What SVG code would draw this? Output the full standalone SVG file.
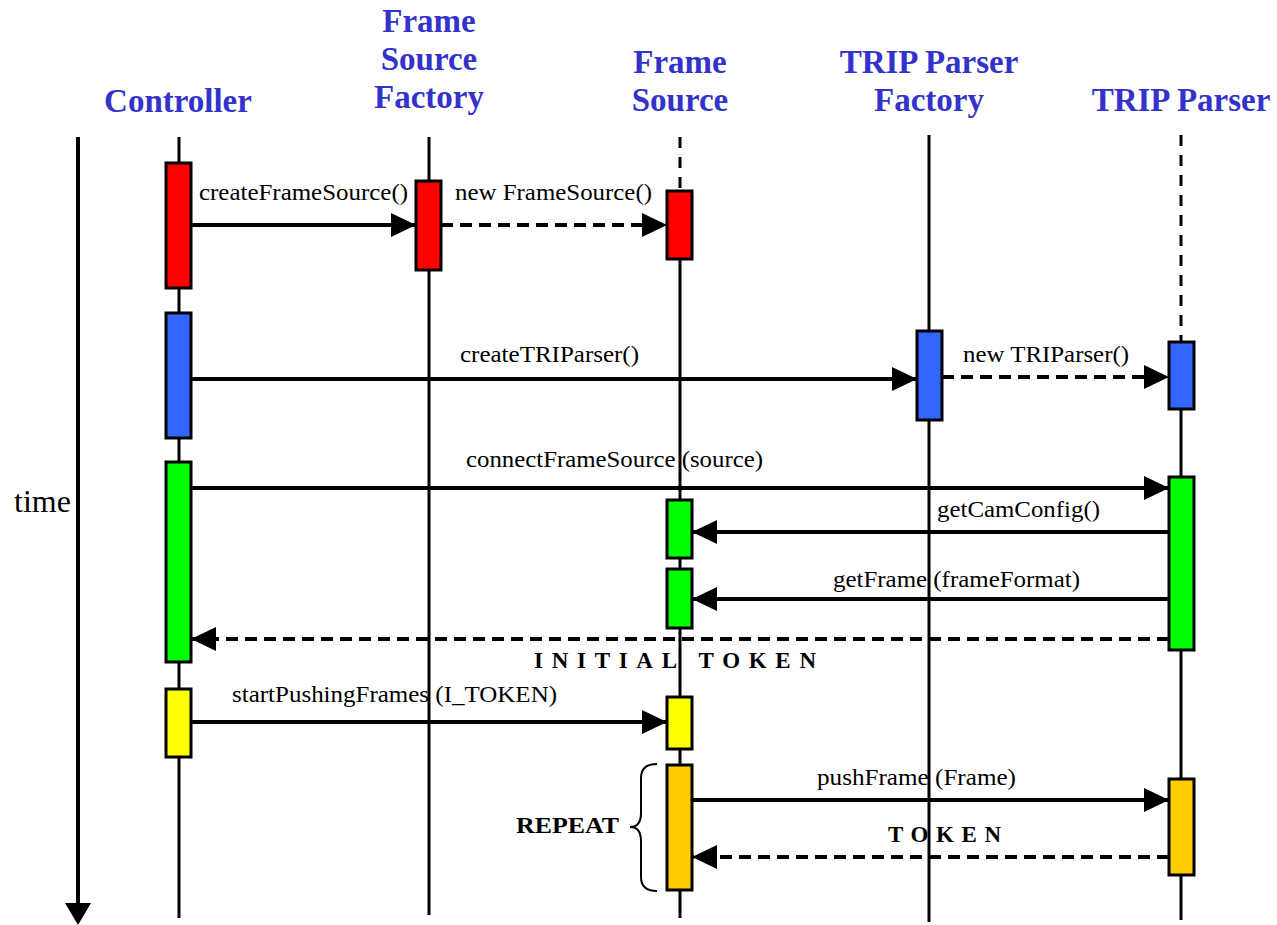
<svg xmlns="http://www.w3.org/2000/svg" width="1277" height="925" viewBox="0 0 1277 925">
<style>
.life{stroke:#000;stroke-width:3;fill:none}
.lifed{stroke:#000;stroke-width:3;fill:none;stroke-dasharray:11 9}
.act{stroke:#000;stroke-width:3}
.msg{stroke:#000;stroke-width:4;fill:none;marker-end:url(#ah)}
.ret{stroke:#000;stroke-width:4;fill:none;stroke-dasharray:12 7;marker-end:url(#ah)}
</style>
<defs>
<marker id="ah" markerUnits="userSpaceOnUse" markerWidth="25" markerHeight="24" refX="25" refY="12" orient="auto">
<path d="M0,0 L25,12 L0,24 Z" fill="#000"/>
</marker>
</defs>
<rect width="1277" height="925" fill="#fff"/>

<g id="time-axis">
<line x1="78" y1="137" x2="78" y2="905" stroke="#000" stroke-width="4"/>
<path d="M65,903 L91,903 L78,925 Z" fill="#000"/>
<text x="14" y="512" font-family="Liberation Serif, Times New Roman, serif" font-size="32" fill="#000">time</text>
</g>

<g id="controller">
<text x="178" y="112" font-family="Liberation Serif, Times New Roman, serif" font-size="33" font-weight="bold" fill="#3333CC" text-anchor="middle">Controller</text>
<line class="life" x1="179" y1="137" x2="179" y2="918"/>
<rect class="act" x="166" y="163" width="25" height="125" fill="#FF0000"/>
<rect class="act" x="166" y="313" width="25" height="125" fill="#3366FF"/>
<rect class="act" x="166" y="462" width="25" height="200" fill="#00FF00"/>
<rect class="act" x="166" y="689" width="25" height="68" fill="#FFFF00"/>
</g>

<g id="frame-source-factory">
<g font-family="Liberation Serif, Times New Roman, serif" font-size="33" font-weight="bold" fill="#3333CC" text-anchor="middle">
<text x="429" y="32">Frame</text>
<text x="429" y="70">Source</text>
<text x="429" y="108">Factory</text>
</g>
<line class="life" x1="429" y1="137" x2="429" y2="915"/>
<rect class="act" x="416" y="181" width="25" height="89" fill="#FF0000"/>
</g>

<g id="frame-source">
<g font-family="Liberation Serif, Times New Roman, serif" font-size="33" font-weight="bold" fill="#3333CC" text-anchor="middle">
<text x="680" y="73">Frame</text>
<text x="680" y="111">Source</text>
</g>
<line class="lifed" x1="680" y1="137" x2="680" y2="191"/>
<line class="life" x1="680" y1="259" x2="680" y2="918"/>
<rect class="act" x="667" y="191" width="25" height="68" fill="#FF0000"/>
<rect class="act" x="667" y="500" width="25" height="58" fill="#00FF00"/>
<rect class="act" x="667" y="569" width="25" height="59" fill="#00FF00"/>
<rect class="act" x="667" y="697" width="25" height="52" fill="#FFFF00"/>
<rect class="act" x="667" y="765" width="25" height="125" fill="#FFCC00"/>
</g>

<g id="trip-parser-factory">
<g font-family="Liberation Serif, Times New Roman, serif" font-size="33" font-weight="bold" fill="#3333CC" text-anchor="middle">
<text x="929" y="73">TRIP Parser</text>
<text x="929" y="111">Factory</text>
</g>
<line class="life" x1="929" y1="135" x2="929" y2="922"/>
<rect class="act" x="917" y="331" width="25" height="89" fill="#3366FF"/>
</g>

<g id="trip-parser">
<text x="1181" y="111" font-family="Liberation Serif, Times New Roman, serif" font-size="33" font-weight="bold" fill="#3333CC" text-anchor="middle">TRIP Parser</text>
<line class="lifed" x1="1181" y1="135" x2="1181" y2="342"/>
<line class="life" x1="1181" y1="342" x2="1181" y2="920"/>
<rect class="act" x="1169" y="342" width="25" height="67" fill="#3366FF"/>
<rect class="act" x="1169" y="477" width="25" height="173" fill="#00FF00"/>
<rect class="act" x="1169" y="779" width="25" height="96" fill="#FFCC00"/>
</g>

<g id="connectors">
<line class="msg" x1="191" y1="225" x2="416" y2="225"/>
<line class="ret" x1="441" y1="225" x2="667" y2="225"/>
<line class="msg" x1="191" y1="379" x2="917" y2="379"/>
<line class="ret" x1="942" y1="377" x2="1169" y2="377"/>
<line class="msg" x1="191" y1="488" x2="1169" y2="488"/>
<line class="msg" x1="1169" y1="532" x2="692" y2="532"/>
<line class="msg" x1="1169" y1="599" x2="692" y2="599"/>
<line class="ret" x1="1169" y1="639" x2="191" y2="639"/>
<line class="msg" x1="191" y1="722" x2="667" y2="722"/>
<line class="msg" x1="692" y1="800" x2="1169" y2="800"/>
<line class="ret" x1="1169" y1="857" x2="692" y2="857"/>
<path d="M657,764 Q641,764 641,778 L641,813 Q641,827 630,827 Q641,827 641,841 L641,877 Q641,891 657,891" fill="none" stroke="#000" stroke-width="2"/>
</g>

<g id="labels" font-family="Liberation Serif, Times New Roman, serif" fill="#000">
<g font-size="23">
<text x="199" y="200" textLength="209" lengthAdjust="spacingAndGlyphs">createFrameSource()</text>
<text x="455" y="200" textLength="197" lengthAdjust="spacingAndGlyphs">new FrameSource()</text>
<text x="460" y="362" textLength="179" lengthAdjust="spacingAndGlyphs">createTRIParser()</text>
<text x="963" y="362" textLength="166" lengthAdjust="spacingAndGlyphs">new TRIParser()</text>
<text x="466" y="467" textLength="297" lengthAdjust="spacingAndGlyphs">connectFrameSource (source)</text>
<text x="937" y="517" textLength="163" lengthAdjust="spacingAndGlyphs">getCamConfig()</text>
<text x="833" y="587" textLength="247" lengthAdjust="spacingAndGlyphs">getFrame (frameFormat)</text>
<text x="232" y="702" textLength="325" lengthAdjust="spacingAndGlyphs">startPushingFrames (I_TOKEN)</text>
<text x="817" y="785" textLength="199" lengthAdjust="spacingAndGlyphs">pushFrame (Frame)</text>
</g>
<g font-weight="bold" font-size="23">
<text x="534" y="668" textLength="282">INITIAL TOKEN</text>
<text x="888" y="842" textLength="113">TOKEN</text>
<text x="516" y="833" textLength="103" lengthAdjust="spacingAndGlyphs">REPEAT</text>
</g>
</g>
</svg>
